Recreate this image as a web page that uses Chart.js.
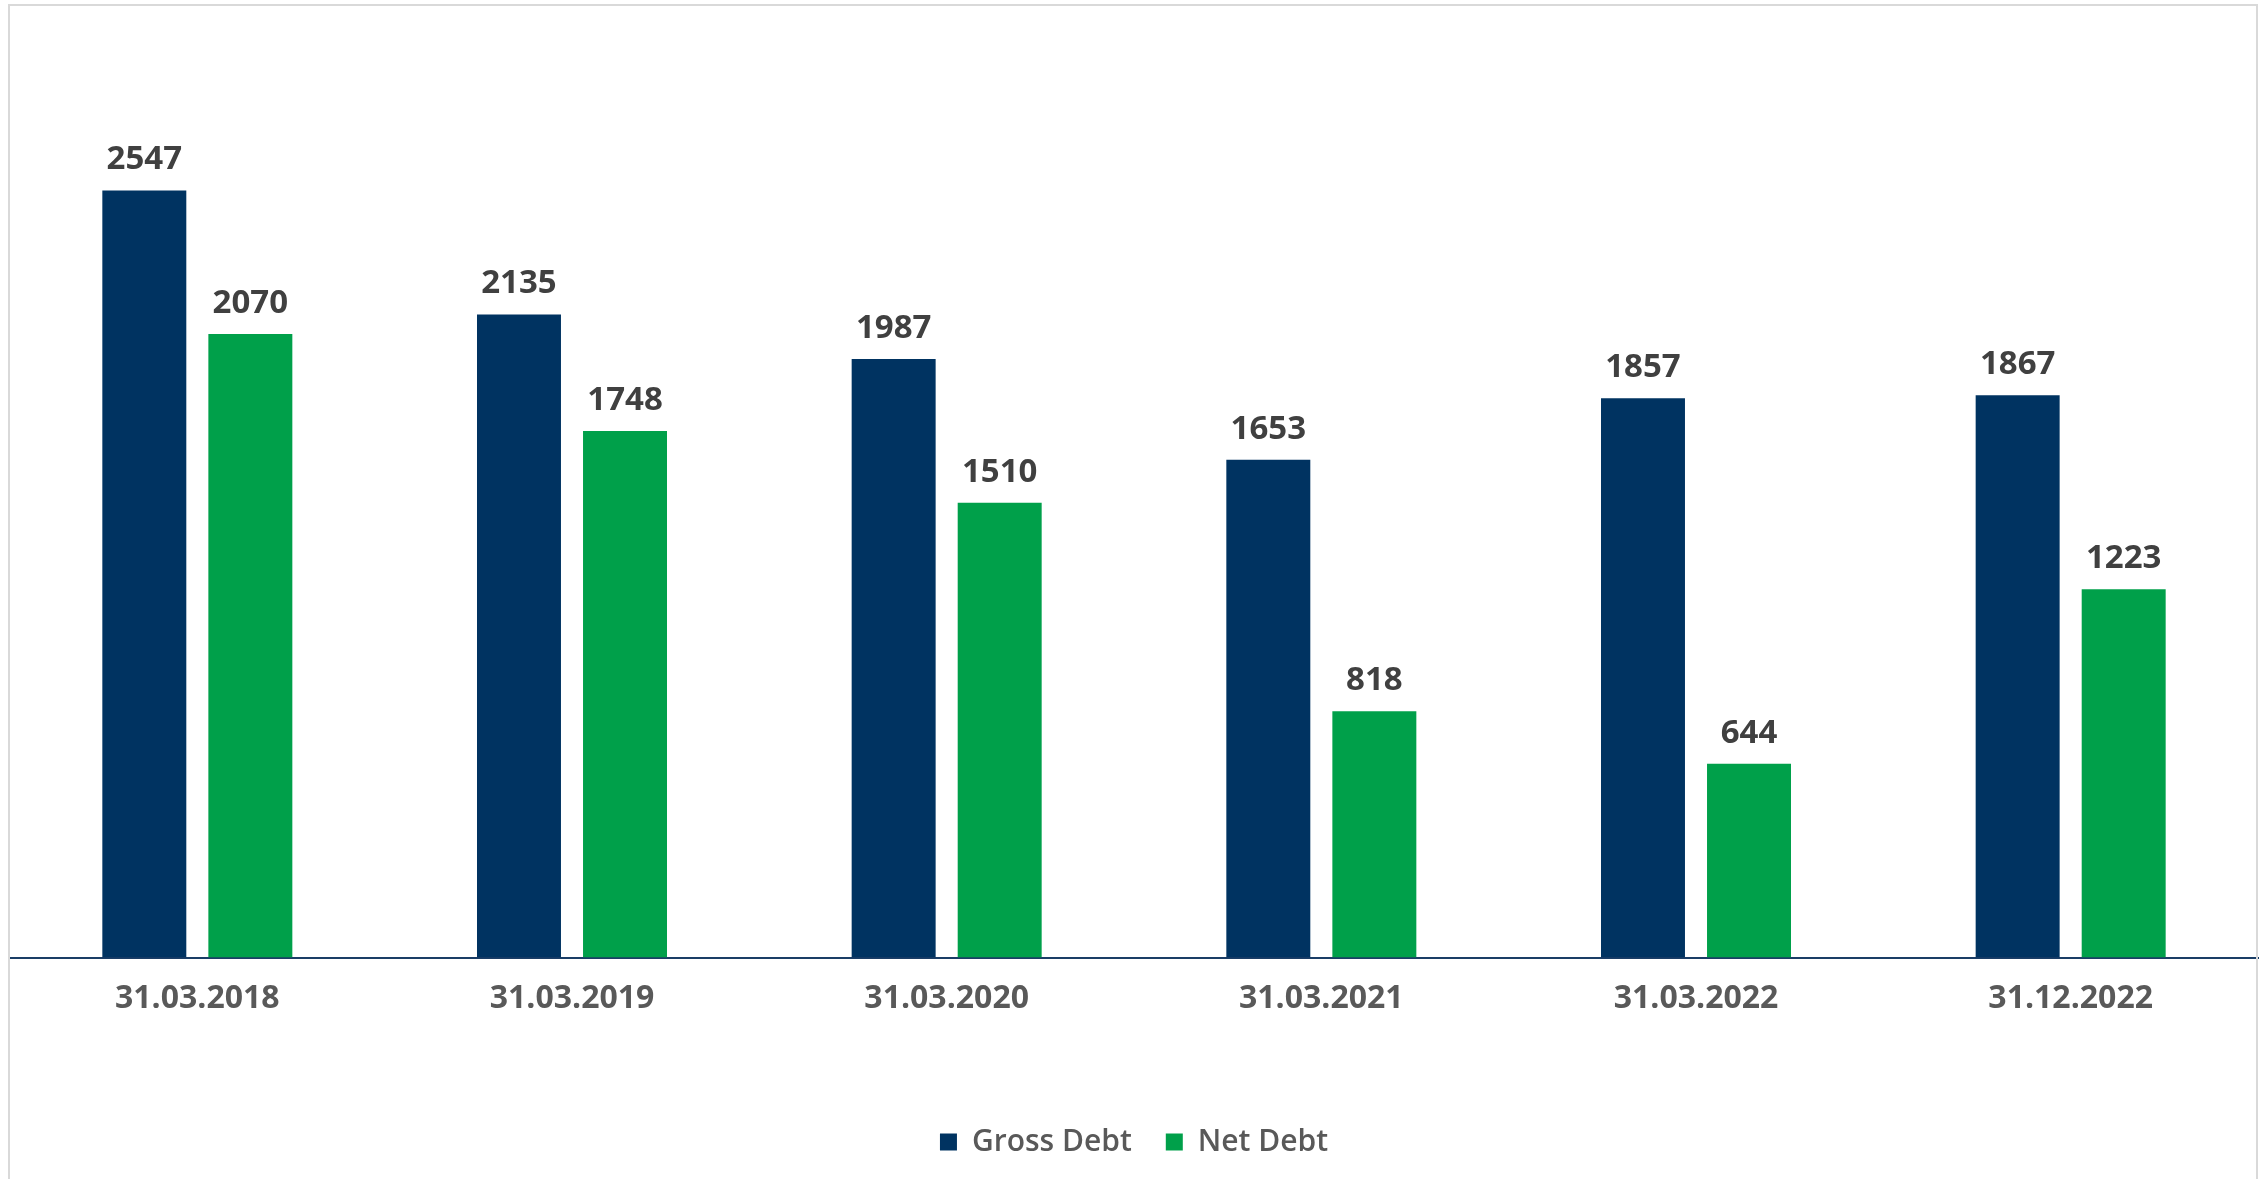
<!DOCTYPE html>
<html>
<head>
<meta charset="utf-8">
<script src="https://cdn.jsdelivr.net/npm/chart.js@4"></script>
<style>
  html, body { margin: 0; padding: 0; background: #fff; }
  #wrap { position: relative; width: 2267px; height: 1179px; }
  #frame { position: absolute; left: 8px; top: 4px; width: 2250px; height: 1180px;
           border: 2px solid #d9d9d9; box-sizing: border-box; pointer-events: none; }
</style>
</head>
<body>
<div id="wrap">
  <canvas id="myChart" width="2267" height="1179"></canvas>
  <div id="frame"></div>
</div>
<script>
var tanggal = ['31.03.2018', '31.03.2019', '31.03.2020', '31.03.2021', '31.03.2022', '31.12.2022'];
var gross_debt = [2547, 2135, 1987, 1653, 1857, 1867];
var net_debt = [2070, 1748, 1510, 818, 644, 1223];

var fontName = "'Open Sans', 'DejaVu Sans', sans-serif";

// tulis angka di atas tiap batang
var labelNilai = {
    id: 'labelNilai',
    afterDatasetsDraw: function (chart) {
        var c = chart.ctx;
        c.save();
        c.font = 'bold 33px ' + fontName;
        c.fillStyle = '#404040';
        c.textAlign = 'center';
        c.textBaseline = 'bottom';
        chart.data.datasets.forEach(function (ds, i) {
            chart.getDatasetMeta(i).data.forEach(function (bar, j) {
                c.fillText(ds.data[j], bar.x, bar.y - 14);
            });
        });
        c.restore();
    }
};

var ctx = document.getElementById('myChart').getContext('2d');
var myChart = new Chart(ctx, {
    type: 'bar',
    data: {
        labels: tanggal,
        datasets: [
            {
                label: 'Gross Debt',
                data: gross_debt,
                backgroundColor: '#003361'
            },
            {
                label: 'Net Debt',
                data: net_debt,
                backgroundColor: '#00a04a'
            }
        ]
    },
    options: {
        responsive: false,
        animation: false,
        categoryPercentage: 0.566,
        barPercentage: 0.792,
        layout: { padding: { left: 10, right: 9, top: 54, bottom: 12 } },
        plugins: {
            legend: {
                position: 'bottom',
                labels: {
                    boxWidth: 17,
                    boxHeight: 17,
                    padding: 34,
                    color: '#595959',
                    font: { family: fontName, size: 30, weight: '600' }
                }
            },
            tooltip: { enabled: false }
        },
        scales: {
            x: {
                grid: { display: false },
                border: { display: true, color: '#1a3d66', width: 2 },
                ticks: {
                    padding: 14,
                    color: '#595959',
                    font: { family: fontName, size: 32, weight: 'bold' }
                },
                // ruang kosong antara label tanggal dan legenda
                afterFit: function (scale) {
                    scale.height += 61;
                }
            },
            y: {
                display: false,
                min: 0,
                max: 3000
            }
        }
    },
    plugins: [labelNilai]
});
</script>
</body>
</html>
